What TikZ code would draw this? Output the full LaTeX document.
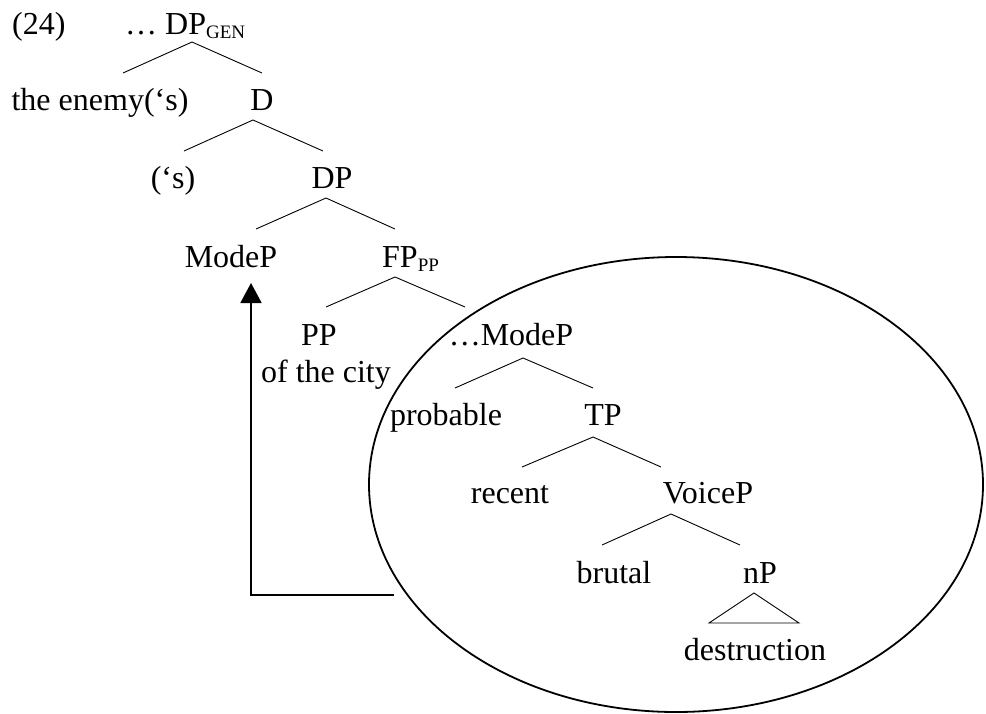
\documentclass[tikz,border=0pt]{standalone}
\usepackage{fontspec}
\setmainfont{Liberation Serif}
\usetikzlibrary{arrows.meta}
\newcommand{\subx}[1]{\raisebox{-4pt}{\fontsize{19}{19}\selectfont #1}}
\begin{document}
\begin{tikzpicture}[x=1pt,y=-1pt,
  lbl/.style={inner sep=0pt,anchor=base,font=\fontsize{32}{38}\selectfont},
  br/.style={line width=0.9pt},
  ring/.style={line width=1.8pt},
  mv/.style={line width=1.8pt,-{Triangle[width=21pt,length=20pt]}}]
\useasboundingbox (0,0) rectangle (986,713);
% labels
\node[lbl,anchor=base west] (ex) at (12,34) {(24)};
\node[lbl,anchor=base west] (dpgen) at (125,34) {… DP\subx{GEN}};
\node[lbl] (enemy) at (100,110) {the enemy(‘s)};
\node[lbl] (d) at (262,110) {D};
\node[lbl] (s) at (173,188) {(‘s)};
\node[lbl] (dp) at (332,188) {DP};
\node[lbl] (modep) at (231,267) {ModeP};
\node[lbl,anchor=base west] (fp) at (382,267) {FP\subx{PP}};
\node[lbl] (pp) at (319,345) {PP};
\node[lbl] (city) at (326,382) {of the city};
\node[lbl] (modep2) at (511,345) {…ModeP};
\node[lbl] (probable) at (446,425) {probable};
\node[lbl] (tp) at (603,425) {TP};
\node[lbl] (recent) at (510,503) {recent};
\node[lbl] (voicep) at (708,503) {VoiceP};
\node[lbl] (brutal) at (614,583) {brutal};
\node[lbl] (np) at (760,583) {nP};
\node[lbl] (destr) at (755,660) {destruction};
% branch points
\coordinate (a1) at (192,42); \coordinate (l1) at (123,73); \coordinate (r1) at (262,73);
\coordinate (a2) at (253,120); \coordinate (l2) at (184,151); \coordinate (r2) at (323,151);
\coordinate (a3) at (326,198); \coordinate (l3) at (256,229); \coordinate (r3) at (395,229);
\coordinate (a4) at (395,277); \coordinate (l4) at (326,307); \coordinate (r4) at (465,307);
\coordinate (a5) at (523,358); \coordinate (l5) at (455,388); \coordinate (r5) at (593,388);
\coordinate (a6) at (593,437); \coordinate (l6) at (522,467); \coordinate (r6) at (661,467);
\coordinate (a7) at (671,514); \coordinate (l7) at (602,545); \coordinate (r7) at (740,545);
\coordinate (t1) at (754,593); \coordinate (t2) at (709,623); \coordinate (t3) at (799,623);
\foreach \i in {1,...,7}{\draw[br] (l\i) -- (a\i) -- (r\i);}
\draw[br] (t1) -- (t2) -- (t3) -- cycle;
% ellipse
\coordinate (ec) at (676,484.5);
\draw[ring] (ec) ellipse [x radius=307, y radius=227.5];
% movement arrow
\coordinate (m0) at (394,595);
\coordinate (m1) at (251,595);
\coordinate (m2) at (251,283);
\draw[mv] (m0) -- (m1) -- (m2);
\end{tikzpicture}
\end{document}
